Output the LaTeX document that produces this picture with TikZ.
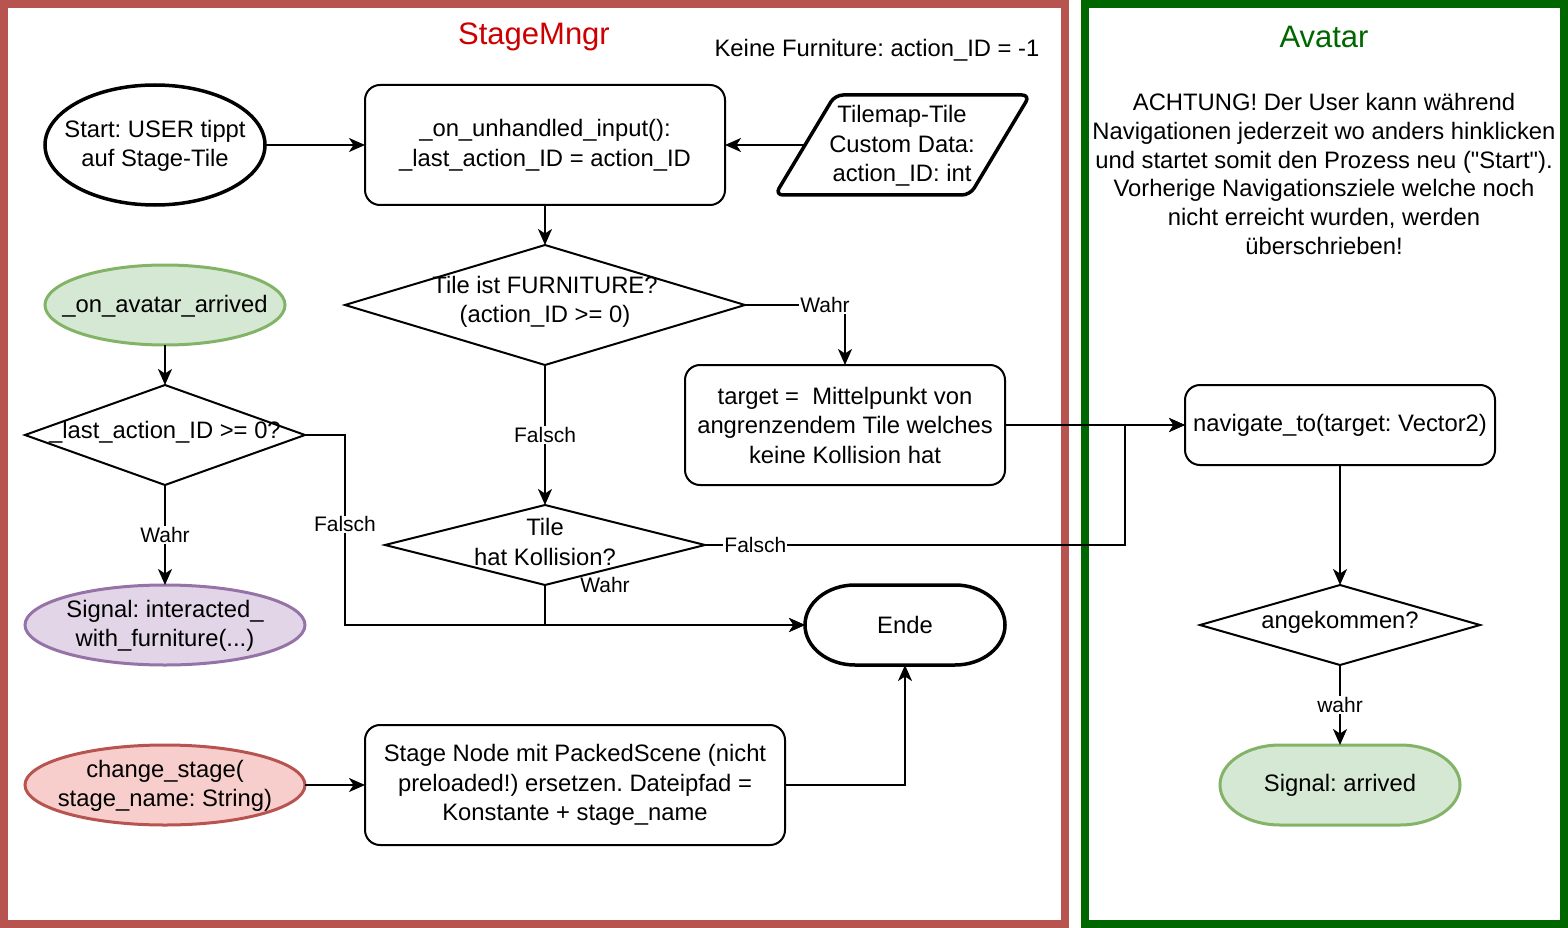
\documentclass[tikz,border=0pt]{standalone}
\usepackage{fontspec}
\setmainfont{Liberation Sans}
\frenchspacing
\usetikzlibrary{shapes.geometric,arrows.meta,backgrounds}
\definecolor{frmred}{HTML}{B85450}
\definecolor{ttlred}{HTML}{CC0000}
\definecolor{frmgreen}{HTML}{006600}
\definecolor{okfill}{HTML}{D5E8D4}
\definecolor{okline}{HTML}{82B366}
\definecolor{sigfill}{HTML}{E1D5E7}
\definecolor{sigline}{HTML}{9673A6}
\definecolor{chgfill}{HTML}{F8CECC}
\tikzset{
  base/.style={font=\fontsize{23.8}{29.5}\selectfont, align=center, inner sep=0pt, outer sep=0pt},
  proc/.style={base, draw, line width=2pt, rounded corners=15pt},
  dec/.style={base, diamond, draw, line width=2pt, label={[base, yshift=3pt]center:{#1}}},
  oval/.style={base, ellipse, line width=3pt, label={[base, yshift=-1pt]center:{#1}}},
  term/.style={base, minimum height=80pt},
  lbl/.style={font=\fontsize{21}{25}\selectfont, fill=white, inner sep=1pt},
  arr/.style={line width=2pt, -{Stealth[length=16pt,width=14pt,inset=4.5pt]}},
  frame/.style={line width=8pt}
}
\newcommand\termline[3]{%% node, x radius, options
  \draw[#3] ([xshift=#2]#1.north west) -- ([xshift=-#2]#1.north east)
    arc[start angle=90,end angle=-90,x radius=#2,y radius=40pt]
    -- ([xshift=#2]#1.south west)
    arc[start angle=270,end angle=90,x radius=#2,y radius=40pt] -- cycle;}
\begin{document}
\begin{tikzpicture}[x=1pt,y=-1pt]
    \useasboundingbox (0,0) rectangle (1568,928);
    %% frames
    \draw[frame, frmred] (4,4) rectangle (1065,924);
    \draw[frame, frmgreen] (1085,4) rectangle (1564,924);
    \node[base, font=\fontsize{31}{37}\selectfont, text=ttlred] (tsm) at (534,37) {StageMngr};
    \node[base, font=\fontsize{31}{37}\selectfont, text=frmgreen] (tav) at (1324,37) {Avatar};
    \node[base] (note) at (877,50) {Keine Furniture: action\_ID = -1};
    \node[base, font=\fontsize{23.8}{28.7}\selectfont] (warn) at (1324,174) {ACHTUNG! Der User kann während\\Navigationen jederzeit wo anders hinklicken\\und startet somit den Prozess neu (\textquotedbl Start\textquotedbl).\\Vorherige Navigationsziele welche noch\\nicht erreicht wurden, werden\\überschrieben!};
    %% input
    \node[oval={Start: USER tippt\\auf Stage-Tile}, draw, line width=3.5pt, minimum width=220pt, minimum height=120pt] (start) at (155,145) {};
    \node[proc, minimum width=360pt, minimum height=120pt] (inp) at (545,145) {\_on\_unhandled\_input():\\\_last\_action\_ID = action\_ID};
    \draw[line width=3.5pt, rounded corners=8pt] (775,195) -- (835,95) -- (1030,95) -- (970,195) -- cycle;
    \node[base] (tile) at (902,146) {Tilemap-Tile\\Custom Data:\\action\_ID: int};
    \coordinate (tin) at (805,145);
    %% decisions
    \node[dec={Tile ist FURNITURE?\\(action\_ID >= 0)}, minimum width=400pt, minimum height=120pt] (fur) at (545,305) {};
    \node[proc, minimum width=320pt, minimum height=120pt] (tgt) at (845,425) {target = \ Mittelpunkt von\\angrenzendem Tile welches\\keine Kollision hat};
    \node[dec={Tile\\hat Kollision?}, minimum width=320pt, minimum height=80pt] (kol) at (545,545) {};
    \node[term, minimum width=200pt] (ende) at (905,625) {Ende};
    \coordinate (mrg) at (1125,425);
    %% arrived
    \node[oval={\_on\_avatar\_arrived}, draw=okline, fill=okfill, minimum width=240pt, minimum height=80pt] (av) at (165,305) {};
    \node[dec={\_last\_action\_ID >= 0?}, minimum width=280pt, minimum height=100pt] (la) at (165,435) {};
    \node[oval={Signal: interacted\_\\with\_furniture(...)}, draw=sigline, fill=sigfill, minimum width=280pt, minimum height=80pt] (sig) at (165,625) {};
    %% stage change
    \node[oval={change\_stage(\\stage\_name: String)}, draw=frmred, fill=chgfill, minimum width=280pt, minimum height=80pt] (chg) at (165,785) {};
    \node[proc, minimum width=420pt, minimum height=120pt] (stg) at (575,785) {Stage Node mit PackedScene (nicht\\preloaded!) ersetzen. Dateipfad =\\Konstante + stage\_name};
    %% avatar
    \node[proc, minimum width=310pt, minimum height=80pt] (nav) at (1340,425) {navigate\_to(target: Vector2)};
    \node[dec={angekommen?}, minimum width=280pt, minimum height=80pt] (ang) at (1340,625) {};
    \node[term, minimum width=240pt] (arv) at (1340,785) {Signal: arrived};
    \begin{scope}[on background layer]
        \termline{ende}{50pt}{line width=3.5pt}
        \termline{arv}{60pt}{line width=3pt, draw=okline, fill=okfill}
    \end{scope}
    %% arrows
    \draw[arr] (start) -- (inp.west |- start);
    \draw[arr] (tin) -- (inp.east |- tin);
    \draw[arr] (inp) -- (fur);
    \draw[arr] (fur.east) -- node[lbl, pos=0.8]{Wahr} (fur.east -| tgt.north) -- (tgt.north);
    \draw[arr] (fur) -- node[lbl]{Falsch} (kol);
    \draw[arr] (av) -- (la);
    \draw[arr] (la) -- node[lbl]{Wahr} (sig);
    \draw[arr] (la.east) -- ++(40,0) |- node[lbl, pos=0.235]{Falsch} (ende.west);
    \draw[arr] (kol.south) |- node[lbl, fill=none, pos=0, xshift=60pt]{Wahr} (ende.west);
    \draw[arr] (kol.east) -| node[lbl, pos=0.06]{Falsch} (mrg) -- (nav.west);
    \draw[arr] (tgt) -- (nav);
    \draw[arr] (chg) -- (stg);
    \draw[arr] (stg.east) -| (ende.south);
    \draw[arr] (nav) -- (ang);
    \draw[arr] (ang) -- node[lbl]{wahr} (arv);
\end{tikzpicture}
\end{document}
